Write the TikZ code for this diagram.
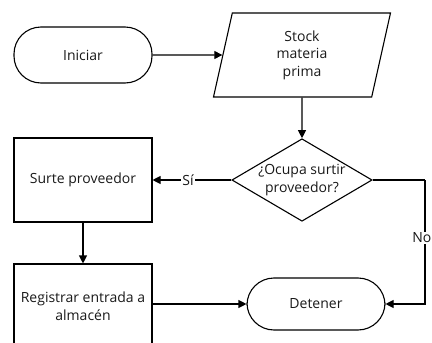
\documentclass[tikz,border=0pt]{standalone}
\usepackage{fontspec}
\setmainfont{Open Sans}
\usetikzlibrary{shapes.geometric,arrows.meta}
\begin{document}
\begin{tikzpicture}[x=1pt,y=-1pt,
  every node/.style={font=\fontsize{14}{17.5}\selectfont, text=black!90},
  line/.style={draw=black, line width=1.1pt},
  arr/.style={line, -{Triangle[length=8pt,width=8pt]}},
  term/.style={line, rectangle, rounded corners=27pt, minimum width=138pt, inner sep=0pt},
  procbox/.style={line, rectangle, minimum width=138pt, minimum height=84pt, align=center, inner sep=1pt},
  lbl/.style={fill=white, inner sep=1pt}]
\useasboundingbox (0,0) rectangle (432,343);
\clip (0,0) rectangle (432,343);
\node[term, minimum height=56pt] (start) at (83,55) {Iniciar};
\node[line, trapezium, trapezium left angle=69, trapezium right angle=111,
      trapezium stretches body=true, minimum width=177pt, minimum height=84pt,
      align=center, inner sep=0pt] (stock) at (302,55) {Stock\\materia\\prima};
\node[line, diamond, aspect=1.7, minimum width=136pt, minimum height=80pt,
      inner sep=0pt, align=center] (dec) at (302,180) {¿Ocupa surtir\\proveedor?};
\node[procbox] (surte) at (83,180) {Surte proveedor};
\node[procbox] (reg) at (83,306) {Registrar entrada a\\almacén};
\node[term, minimum height=52pt] (stop) at (316,304) {Detener};
\coordinate (corner1) at (425,180);
\coordinate (corner2) at (425,304);
\draw[arr] (start.east) -- (stock.west);
\draw[arr] (stock.south) -- (dec.north);
\draw[arr] (dec.west) -- node[lbl, pos=0.55] {Sí} (surte.east);
\draw[arr] (surte.south) -- (reg.north);
\draw[arr] (reg.east |- stop.west) -- (stop.west);
\draw[line] (dec.east) -- (corner1);
\draw[arr] (corner1) -- (corner2) -- (stop.east);
\node[lbl, anchor=east, inner sep=0.5pt] (nolbl) at (432,238) {No};
\end{tikzpicture}
\end{document}
